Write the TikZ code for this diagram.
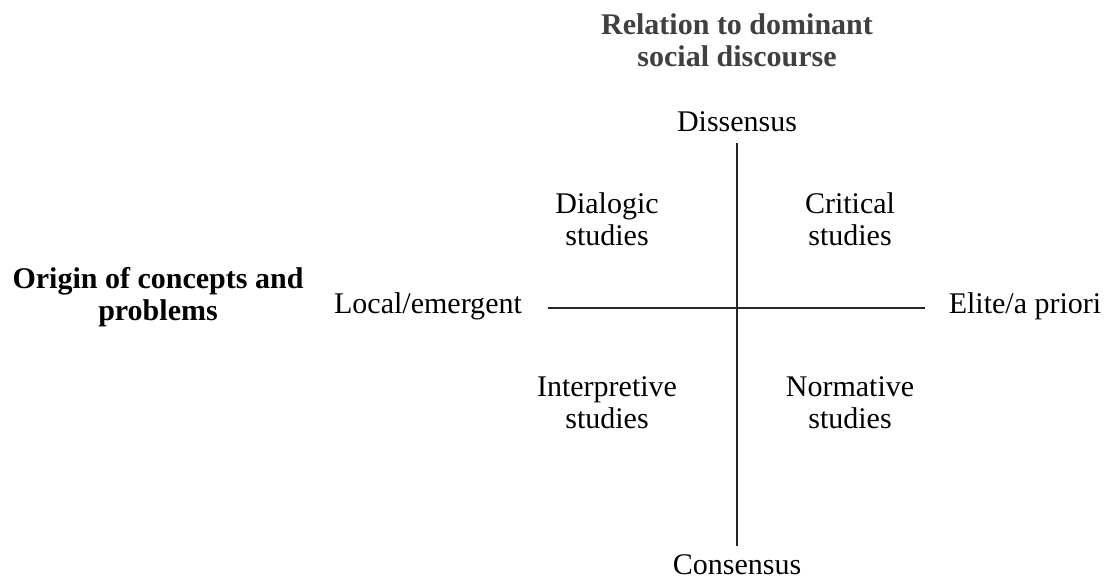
\documentclass[tikz,border=0pt]{standalone}
\usepackage{fontspec}
\setmainfont{Liberation Serif}
\usetikzlibrary{positioning}
\definecolor{headgray}{RGB}{64,64,64}

\begin{document}
\begin{tikzpicture}[x=0.3333pt,y=-0.3333pt,
  every node/.style={align=center,font=\fontsize{10}{10.6}\selectfont},
  axis head/.style={font=\fontsize{10}{10.6}\selectfont\bfseries},
  axis/.style={line width=0.45pt,black!85}]
  \useasboundingbox (0,0) rectangle (1108,578);

  % axis titles
  \node[axis head,text=headgray] (reltitle) at (737,40) {Relation to dominant\\social discourse};
  \node[axis head] (origtitle) at (158,297) {Origin of concepts and\\problems};

  % poles
  \node (dis) at (737,122) {Dissensus};
  \node (con) at (737,565) {Consensus};
  \node (local) at (428,306) {Local/emergent};
  \node (elite) at (1025,306) {Elite/a priori};

  % quadrants
  \node (dial) at (607,219) {Dialogic\\studies};
  \node (crit) at (850,219) {Critical\\studies};
  \node (interp) at (607,403) {Interpretive\\studies};
  \node (norm) at (850,403) {Normative\\studies};

  % axes
  \coordinate (vtop) at (737,143);
  \coordinate (vbot) at (737,546);
  \coordinate (hleft) at (548,308);
  \coordinate (hright) at (925,308);
  \draw[axis] (vtop) -- (vbot);
  \draw[axis] (hleft) -- (hright);
\end{tikzpicture}
\end{document}
